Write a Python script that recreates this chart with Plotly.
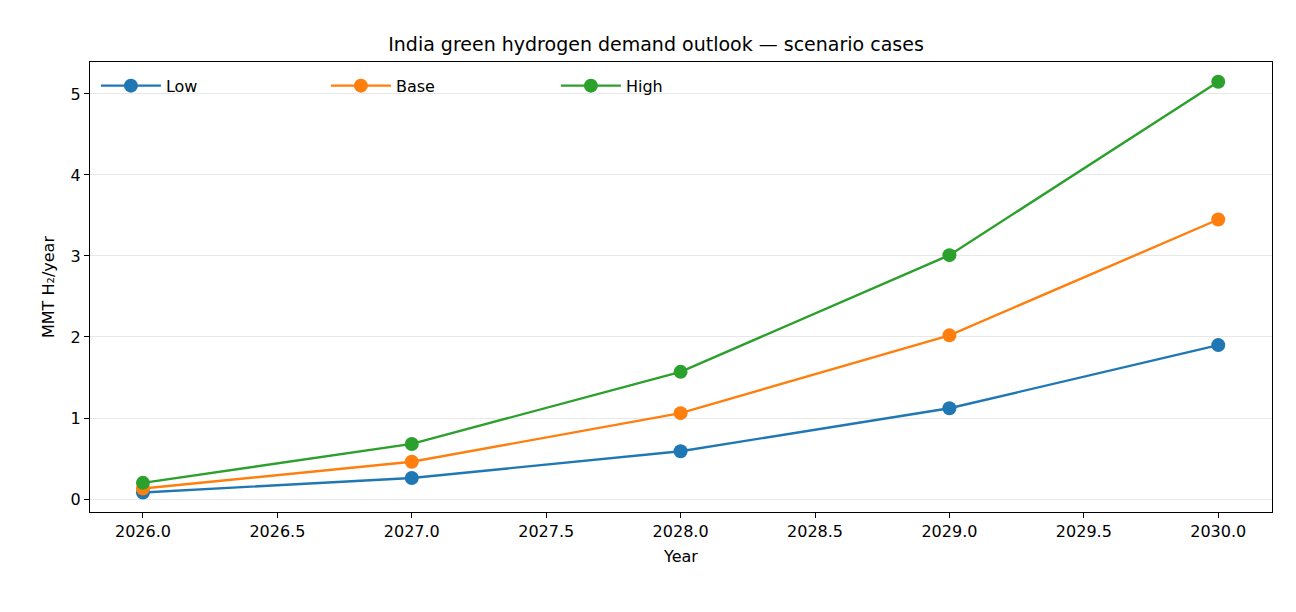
import plotly.graph_objects as go

years = [2026, 2027, 2028, 2029, 2030]
low = [0.08, 0.26, 0.59, 1.12, 1.90]
base = [0.13, 0.46, 1.06, 2.02, 3.45]
high = [0.20, 0.68, 1.57, 3.01, 5.15]
series = [("Low", low, "#1f77b4"), ("Base", base, "#ff7f0e"), ("High", high, "#2ca02c")]

fig = go.Figure()
for name, vals, col in series:
    fig.add_trace(go.Scatter(x=years, y=vals, name=name, mode="lines+markers",
                             line=dict(color=col, width=2.4), marker=dict(size=14, color=col)))

ax = dict(showline=True, linecolor="black", linewidth=1, mirror=True, ticks="outside",
          ticklen=5, tickcolor="black", zeroline=False, tickfont=dict(size=16, color="black"))
fig.update_layout(
    width=1296, height=612, plot_bgcolor="white", paper_bgcolor="white",
    font=dict(family="DejaVu Sans", color="black", size=16),
    margin=dict(l=82, r=32, t=54, b=108),
    title=dict(text="India green hydrogen demand outlook — scenario cases", x=0.5, xanchor="center",
               y=0.94, yanchor="middle", font=dict(size=19)),
    xaxis=dict(**ax, range=[2025.803, 2030.2], tickvals=[2026 + 0.5*i for i in range(9)],
               ticktext=[f"{2026 + 0.5*i:.1f}" for i in range(9)], showgrid=False,
               title=dict(text="Year", font=dict(size=16), standoff=10)),
    yaxis=dict(**ax, range=[-0.16, 5.394], dtick=1, showgrid=True, gridcolor="#e8e8e8",
               title=dict(text="MMT H₂/year", font=dict(size=16), standoff=12)),
    legend=dict(orientation="h", x=0.005, y=0.985, xanchor="left", yanchor="top",
                bgcolor="rgba(0,0,0,0)", font=dict(size=16), entrywidth=155, entrywidthmode="pixels",
                itemwidth=60),
)
fig.write_html("out.html")
